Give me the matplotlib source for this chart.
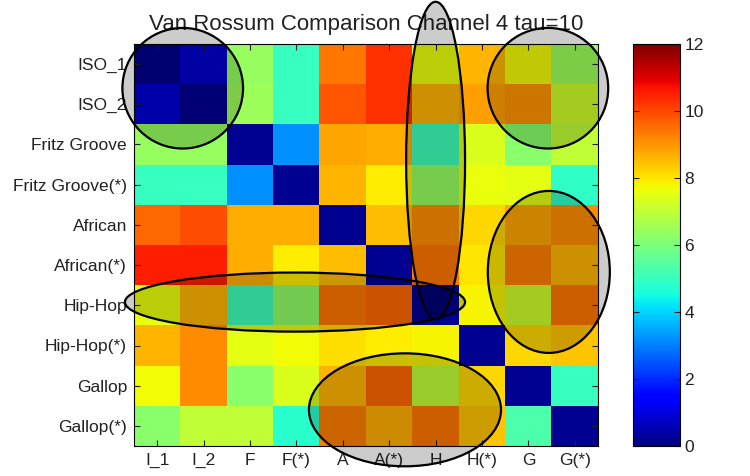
"""Van Rossum distance matrix, channel 4, tau=10, with highlighted regions."""

import matplotlib
matplotlib.use("Agg")
import matplotlib.pyplot as plt
import numpy as np
from matplotlib.patches import Ellipse

plt.rcParams["font.family"] = ["Liberation Sans", "DejaVu Sans"]

# ---- data ----------------------------------------------------------------

ROW_LABELS = ["ISO_1", "ISO_2", "Fritz Groove", "Fritz Groove(*)", "African",
              "African(*)", "Hip-Hop", "Hip-Hop(*)", "Gallop", "Gallop(*)"]
COL_LABELS = ["I_1", "I_2", "F", "F(*)", "A", "A(*)", "H", "H(*)", "G", "G(*)"]

DIST = [
    [0.15, 0.8, 6.4, 5.0, 9.4, 10.3, 7.6, 8.6, 7.7, 6.5],
    [0.9, 0.2, 6.5, 5.0, 9.8, 10.3, 8.6, 8.9, 9.0, 7.2],
    [6.4, 6.4, 0.2, 3.2, 8.8, 8.7, 5.1, 7.4, 6.2, 7.0],
    [5.0, 5.0, 3.2, 0.2, 8.6, 7.9, 6.4, 7.6, 7.5, 4.9],
    [9.6, 9.9, 8.7, 8.7, 0.2, 8.5, 9.1, 8.2, 8.8, 9.1],
    [10.5, 10.5, 8.7, 7.9, 8.5, 0.2, 9.4, 8.0, 9.3, 8.6],
    [7.6, 8.6, 5.1, 6.3, 9.4, 9.6, 0.2, 7.8, 7.2, 9.4],
    [8.6, 9.1, 7.5, 7.7, 8.1, 7.9, 7.8, 0.2, 8.2, 8.4],
    [7.7, 9.1, 6.2, 7.4, 8.6, 9.6, 7.0, 8.2, 0.2, 5.0],
    [6.2, 7.0, 7.0, 4.8, 9.3, 8.7, 9.4, 8.4, 5.3, 0.2],
]

# highlighted regions in cell coordinates: (x, y, width, height)
REGIONS = [
    (0.55, 0.6, 2.6, 3.0),
    (6.0, 2.4, 1.27, 7.9),
    (8.42, 0.6, 2.6, 3.0),
    (8.44, 5.17, 2.63, 4.03),
    (2.97, 5.92, 7.33, 1.47),
    (5.34, 8.6, 4.14, 2.81),
]

VMIN, VMAX = 0, 12
CBAR_TICKS = [0, 2, 4, 6, 8, 10, 12]

# ---- plot ----------------------------------------------------------------

fig = plt.figure(figsize=(7.5, 4.76), dpi=100)
ax = fig.add_axes([134 / 750, 1 - 446 / 476, 464 / 750, 402 / 476])
cax = fig.add_axes([633 / 750, 1 - 446 / 476, 47 / 750, 402 / 476])

im = ax.imshow(np.array(DIST), cmap="jet", vmin=VMIN, vmax=VMAX,
               aspect="auto", interpolation="nearest")

ax.set_xticks(range(len(COL_LABELS)))
ax.set_xticklabels(COL_LABELS)
ax.set_yticks(range(len(ROW_LABELS)))
ax.set_yticklabels(ROW_LABELS)
ax.tick_params(direction="in", length=4, width=0.8, labelsize=12.5,
               top=True, right=True, colors="#222222", pad=5)
ax.set_title("Van Rossum Comparison Channel 4 tau=10", fontsize=16,
             color="#222222", pad=10)

for x, y, w, h in REGIONS:
    ax.add_patch(Ellipse((x, y), w, h, facecolor=(0, 0, 0, 0.2),
                         edgecolor="black", linewidth=1.6,
                         clip_on=False, zorder=5))

cb = fig.colorbar(im, cax=cax, ticks=CBAR_TICKS)
cb.ax.tick_params(direction="in", length=4, width=0.8, labelsize=12.5,
                  left=True, right=True, colors="#222222", pad=3)
cb.outline.set_linewidth(0.8)

fig.savefig("out.png", dpi=100)
